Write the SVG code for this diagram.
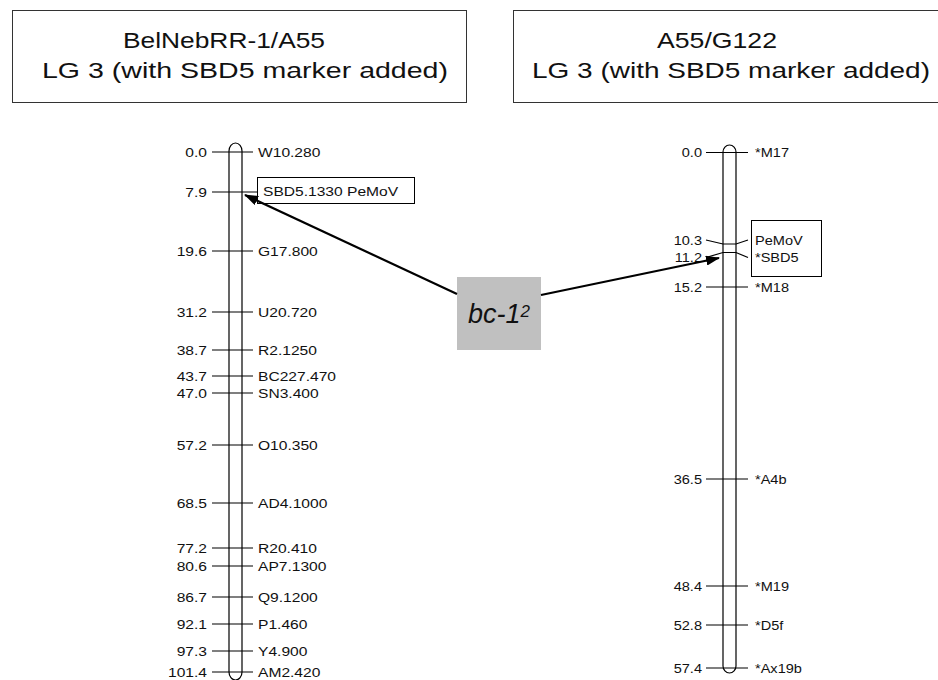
<svg xmlns="http://www.w3.org/2000/svg" width="938" height="680" viewBox="0 0 938 680">
<style>
.bg{fill:#ffffff}
.box{fill:#ffffff;stroke:#333333;stroke-width:1}
.title{font-family:"Liberation Sans",Arial,sans-serif;font-size:22px;fill:#111111}
.chr{fill:#ffffff;stroke:#000000;stroke-width:1.2}
.tick{stroke:#000000;stroke-width:1.2;fill:none}
.lab{font-family:"Liberation Sans",Arial,sans-serif;font-size:13px;fill:#111111}
.num{text-anchor:end}
.mbox{fill:#ffffff;stroke:#000000;stroke-width:1}
.gray{fill:#c0c0c0}
.bc{font-family:"Liberation Sans",Arial,sans-serif;font-style:italic;fill:#111111}
.arrow{stroke:#000000;stroke-width:2.2;fill:none}
</style>
<defs>
<marker id="ah" markerUnits="userSpaceOnUse" markerWidth="14" markerHeight="10" refX="13" refY="5" orient="auto">
<path d="M0,0 L14,5 L0,10 Z" fill="#000000"/>
</marker>
</defs>
<rect class="bg" x="0" y="0" width="938" height="680"/>

<g id="title-left">
<rect class="box" x="12.5" y="10.5" width="454" height="92"/>
<text class="title" x="123" y="48" textLength="202" lengthAdjust="spacingAndGlyphs">BelNebRR-1/A55</text>
<text class="title" x="42" y="78" textLength="406" lengthAdjust="spacingAndGlyphs">LG 3 (with SBD5 marker added)</text>
</g>

<g id="title-right">
<rect class="box" x="513.5" y="10.5" width="440" height="92"/>
<text class="title" x="657" y="48" textLength="120" lengthAdjust="spacingAndGlyphs">A55/G122</text>
<text class="title" x="532" y="78" textLength="398" lengthAdjust="spacingAndGlyphs">LG 3 (with SBD5 marker added)</text>
</g>

<g id="chromosome-left">
<rect class="chr" x="229" y="143" width="13" height="537" rx="6.5" ry="8"/>
<path class="tick" d="M212,152H253 M212,192H257 M212,251H253 M212,312H253 M212,350H253 M212,376H253 M212,393H253 M212,445H253 M212,503H253 M212,548H253 M212,566H253 M212,597H253 M212,624H253 M212,651H253 M212,672H253"/>
<g class="lab num">
<text transform="translate(207 156.7) scale(1.2 1)">0.0</text>
<text transform="translate(207 196.7) scale(1.2 1)">7.9</text>
<text transform="translate(207 255.7) scale(1.2 1)">19.6</text>
<text transform="translate(207 316.7) scale(1.2 1)">31.2</text>
<text transform="translate(207 354.7) scale(1.2 1)">38.7</text>
<text transform="translate(207 380.7) scale(1.2 1)">43.7</text>
<text transform="translate(207 397.7) scale(1.2 1)">47.0</text>
<text transform="translate(207 449.7) scale(1.2 1)">57.2</text>
<text transform="translate(207 507.7) scale(1.2 1)">68.5</text>
<text transform="translate(207 552.7) scale(1.2 1)">77.2</text>
<text transform="translate(207 570.7) scale(1.2 1)">80.6</text>
<text transform="translate(207 601.7) scale(1.2 1)">86.7</text>
<text transform="translate(207 628.7) scale(1.2 1)">92.1</text>
<text transform="translate(207 655.7) scale(1.2 1)">97.3</text>
<text transform="translate(207 676.7) scale(1.2 1)">101.4</text>
</g>
<g class="lab">
<text transform="translate(258 156.7) scale(1.2 1)">W10.280</text>
<text transform="translate(258 255.7) scale(1.2 1)">G17.800</text>
<text transform="translate(258 316.7) scale(1.2 1)">U20.720</text>
<text transform="translate(258 354.7) scale(1.2 1)">R2.1250</text>
<text transform="translate(258 380.7) scale(1.2 1)">BC227.470</text>
<text transform="translate(258 397.7) scale(1.2 1)">SN3.400</text>
<text transform="translate(258 449.7) scale(1.2 1)">O10.350</text>
<text transform="translate(258 507.7) scale(1.2 1)">AD4.1000</text>
<text transform="translate(258 552.7) scale(1.2 1)">R20.410</text>
<text transform="translate(258 570.7) scale(1.2 1)">AP7.1300</text>
<text transform="translate(258 601.7) scale(1.2 1)">Q9.1200</text>
<text transform="translate(258 628.7) scale(1.2 1)">P1.460</text>
<text transform="translate(258 655.7) scale(1.2 1)">Y4.900</text>
<text transform="translate(258 676.7) scale(1.2 1)">AM2.420</text>
</g>
</g>

<g id="sbd5-box-left">
<rect class="mbox" x="257.5" y="177.5" width="157" height="26"/>
<text class="lab" transform="translate(263 196) scale(1.2 1)">SBD5.1330 PeMoV</text>
</g>

<g id="chromosome-right">
<rect class="chr" x="723" y="145" width="13" height="528" rx="6.5" ry="7"/>
<path class="tick" d="M706,152.5H748 M706,240L723,244L736,244L748,240 M706,257.5L723,252.5L736,252.5L748,257.5 M706,287H748 M706,479H748 M706,586H748 M706,625H748 M706,668H748"/>
<g class="lab num">
<text transform="translate(702 157.2) scale(1.12 1)">0.0</text>
<text transform="translate(702 244.7) scale(1.12 1)">10.3</text>
<text transform="translate(702 262.2) scale(1.12 1)">11.2</text>
<text transform="translate(702 291.7) scale(1.12 1)">15.2</text>
<text transform="translate(702 483.7) scale(1.12 1)">36.5</text>
<text transform="translate(702 590.7) scale(1.12 1)">48.4</text>
<text transform="translate(702 629.7) scale(1.12 1)">52.8</text>
<text transform="translate(702 672.7) scale(1.12 1)">57.4</text>
</g>
<g class="lab">
<text transform="translate(755 157.2) scale(1.12 1)">*M17</text>
<text transform="translate(755 291.7) scale(1.12 1)">*M18</text>
<text transform="translate(755 483.7) scale(1.12 1)">*A4b</text>
<text transform="translate(755 590.7) scale(1.12 1)">*M19</text>
<text transform="translate(755 629.7) scale(1.12 1)">*D5f</text>
<text transform="translate(755 672.7) scale(1.12 1)">*Ax19b</text>
</g>
</g>

<g id="sbd5-box-right">
<rect class="mbox" x="751.5" y="220.5" width="70" height="56"/>
<text class="lab" transform="translate(755 244.7) scale(1.12 1)">PeMoV</text>
<text class="lab" transform="translate(755 262.2) scale(1.12 1)">*SBD5</text>
</g>

<g id="bc1-box">
<rect class="gray" x="457" y="277" width="84" height="73"/>
<text class="bc" x="468" y="323" font-size="27">bc-1<tspan font-size="17" dy="-6">2</tspan></text>
</g>

<g id="connectors">
<line class="arrow" x1="457" y1="294" x2="245" y2="195" marker-end="url(#ah)"/>
<line class="arrow" x1="541" y1="295" x2="719" y2="258" marker-end="url(#ah)"/>
</g>
</svg>
